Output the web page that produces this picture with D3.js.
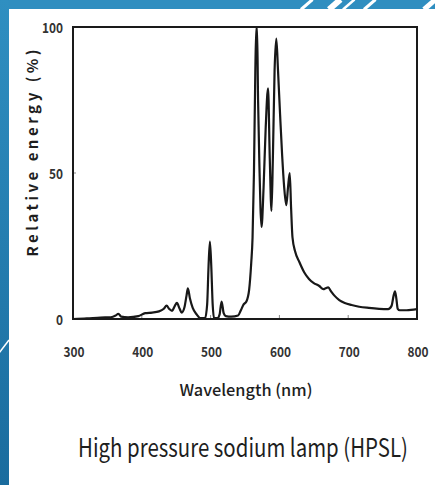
<!DOCTYPE html>
<html>
<head>
<meta charset="utf-8">
<script src="https://cdn.jsdelivr.net/npm/d3@7"></script>
<style>
  html, body { margin: 0; padding: 0; background: #fff; }
  svg { display: block; }
</style>
</head>
<body>
<div id="chart"></div>
<script>
// ---- data ----
const wavelengths = [300,320,340,355,362,366,370,380,395,405,415,425,432,436,440,444,448,451,455,458,462,465,467,470,474,480,485,492,495,497,499,501,503,505,510,513,516,519,522,530,540,544,548,552,556,559,561,563,565,566.5,567.5,569,571,572.5,574,577,580,583.5,586,588.5,590.5,593,595.5,598,601,604,607,610,612.5,615,617,619,623,629,636,643,650,658,664,667,671,675,680,687,695,705,716,730,745,758,763,766,768,770,772,775,785,800];
const energy =      [0,  0.2,0.5,0.6,1.2,1.8,0.8,0.6,1.0,2.0,2.2,2.6,3.5,4.6,3.4,2.8,4.5,5.5,3.5,2.2,4.0,8.0,10.5,7.0,3.8,1.5,0.3,0.3,5,  18, 26.5,18, 5,  0.3,0.3,1.5,6,  2,  1,  0.8,1.2,3,  5,  6,  10, 19, 28, 50, 85, 100,  100,  75, 52, 38,  31.5,45, 65, 79,   55, 37,   55,   85, 96,   85, 70, 56, 45, 39, 45,   50, 38, 28, 23, 19.5,16, 13.7,12.3,11.3,10.2,10.5,10.8,9.5,8, 6.5,5.5,4.8,4.2,3.8,3.5,3.4,4.5,8, 9.5,7, 3.5,3.0,3.0,3.4];
const xTicks = [300,400,500,600,700,800];
const yTicks = [0,50,100];
const xTitle = "Wavelength (nm)";
const yTitle = "Relative energy (%)";
const caption = "High pressure sodium lamp (HPSL)";

// ---- layout ----
const W = 435, H = 485;
const svg = d3.select("#chart").append("svg").attr("width", W).attr("height", H);

// background frame (slide style)
const defs = svg.append("defs");
const grad = defs.append("linearGradient").attr("id","leftBlue").attr("x1",0).attr("y1",0).attr("x2",0).attr("y2",1);
grad.append("stop").attr("offset","0%").attr("stop-color","#2f8fc1");
grad.append("stop").attr("offset","100%").attr("stop-color","#1a6c9e");
svg.append("rect").attr("x",0).attr("y",0).attr("width",W).attr("height",H).attr("fill","#ffffff");
svg.append("rect").attr("x",0).attr("y",0).attr("width",W).attr("height",9).attr("fill","#2f8ec0");
svg.append("rect").attr("x",0).attr("y",0).attr("width",9).attr("height",H).attr("fill","url(#leftBlue)");
// decorative diagonal stripes
const stripes = [[301,3],[329,6],[343,2.5],[364,3],[424,5]];
stripes.forEach(([x0,w]) => {
  svg.append("line").attr("x1",x0).attr("y1",9.5).attr("x2",x0+11.5).attr("y2",-0.5)
    .attr("stroke","#ffffff").attr("stroke-width",w);
});
svg.append("line").attr("x1",-1).attr("y1",353).attr("x2",9).attr("y2",340)
  .attr("stroke","#ffffff").attr("stroke-width",1.5);

// ---- scales ----
const x = d3.scaleLinear().domain([300,800]).range([73,417]);
const y = d3.scaleLinear().domain([0,100]).range([319,27]);

const font = "'Noto Sans CJK JP', 'Noto Sans', sans-serif";

// clip
defs.append("clipPath").attr("id","plotClip").append("rect")
  .attr("x",x(300)).attr("y",y(100)).attr("width",x(800)-x(300)).attr("height",y(0)-y(100));

// inner ticks
const g = svg.append("g");
g.selectAll(".xt").data(xTicks.slice(1,-1)).join("line")
  .attr("x1",d=>x(d)).attr("x2",d=>x(d)).attr("y1",y(0)).attr("y2",y(0)-4)
  .attr("stroke","#888").attr("stroke-width",1);
g.append("line").attr("x1",x(300)).attr("x2",x(300)+3).attr("y1",y(50)).attr("y2",y(50))
  .attr("stroke","#888").attr("stroke-width",1);

// spectrum line
const pts = wavelengths.map((w,i)=>[w, energy[i]]);
const line = d3.line().x(d=>x(d[0])).y(d=>y(d[1])).curve(d3.curveMonotoneX);
svg.append("path").datum(pts).attr("d",line)
  .attr("fill","none").attr("stroke","#181818").attr("stroke-width",2.2)
  .attr("stroke-linejoin","round").attr("clip-path","url(#plotClip)");

// frame
svg.append("rect").attr("x",x(300)).attr("y",y(100)).attr("width",x(800)-x(300)).attr("height",y(0)-y(100))
  .attr("fill","none").attr("stroke","#1a1a1a").attr("stroke-width",2);

// x tick labels
svg.selectAll(".xl").data(xTicks).join("text")
  .attr("x",d=>x(d)+1).attr("y",357)
  .attr("text-anchor","middle")
  .attr("font-family",font).attr("font-size",14).attr("font-weight",700)
  .attr("fill","#333")
  .attr("textLength",21).attr("lengthAdjust","spacingAndGlyphs")
  .text(d=>d);

// y tick labels
svg.selectAll(".yl").data(yTicks).join("text")
  .attr("x",63).attr("y",d=>y(d)+6)
  .attr("text-anchor","end")
  .attr("font-family",font).attr("font-size",14).attr("font-weight",700)
  .attr("fill","#333")
  .attr("textLength",d=>String(d).length*7)
  .attr("lengthAdjust","spacingAndGlyphs")
  .text(d=>d);

// axis titles
svg.append("text").attr("x",246).attr("y",396)
  .attr("text-anchor","middle").attr("font-family",font).attr("font-size",16).attr("font-weight",500)
  .attr("fill","#1e1e1e").attr("textLength",133).attr("lengthAdjust","spacingAndGlyphs")
  .text(xTitle);

svg.append("text").attr("transform","translate(38,153) rotate(-90)")
  .attr("text-anchor","middle").attr("font-family",font).attr("font-size",15).attr("font-weight",700)
  .attr("fill","#1e1e1e").attr("textLength",207).attr("lengthAdjust","spacing")
  .text(yTitle);

// caption: natural text, horizontally scaled to the reference width
const cap = svg.append("text")
  .attr("text-anchor","middle").attr("font-family",font).attr("font-size",25).attr("font-weight",400)
  .attr("fill","#1e1e1e")
  .text(caption);
const natural = cap.node().getComputedTextLength() || 330;
const sx = Math.min(1, 330 / natural);
cap.attr("transform", `translate(243,457) scale(${sx},1)`);
</script>
</body>
</html>
